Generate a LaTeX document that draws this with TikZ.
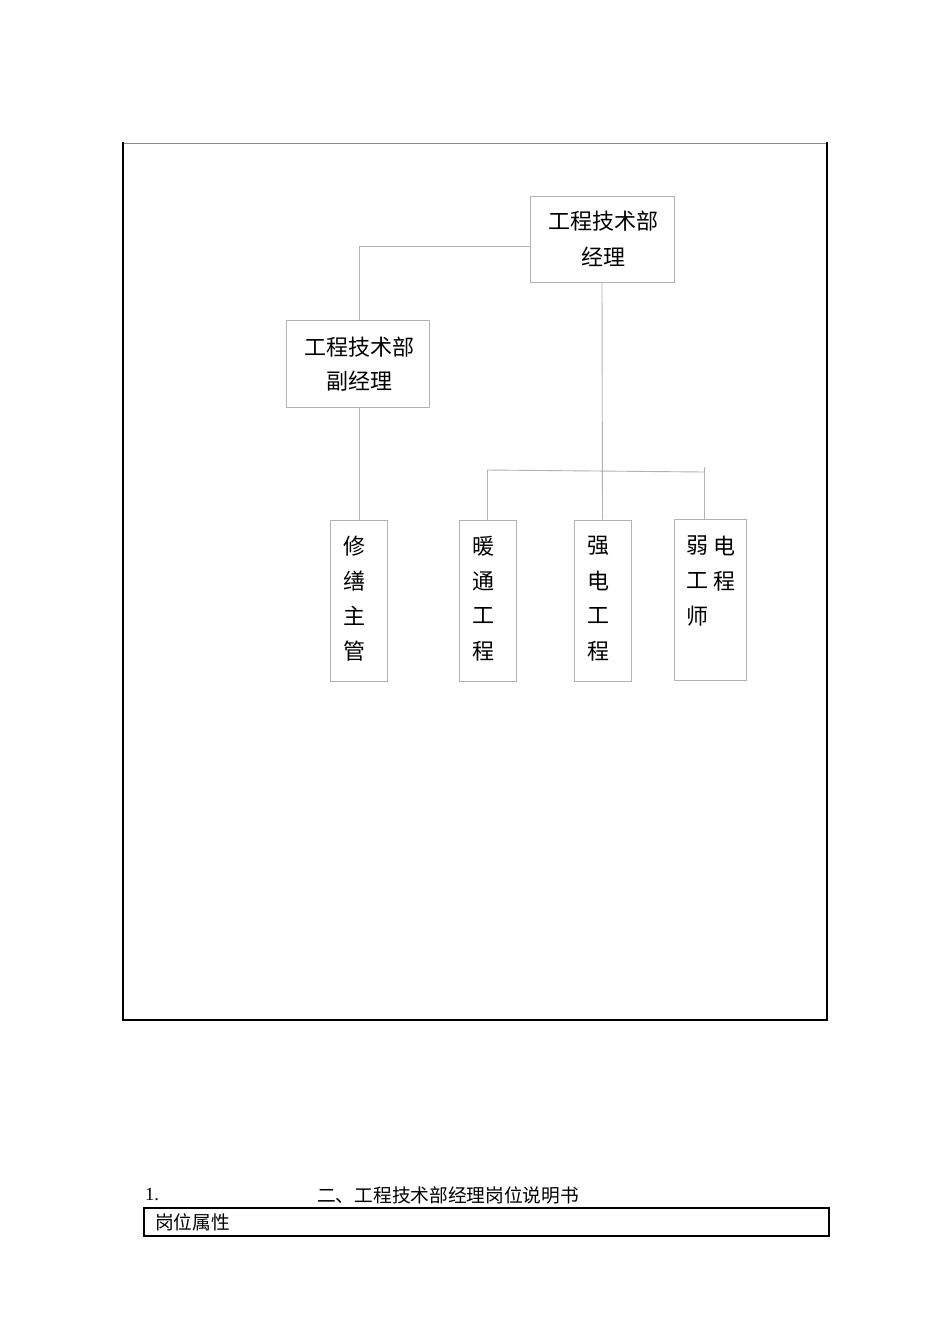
\documentclass[tikz,border=0pt]{standalone}
\usepackage{fontspec}
\setmainfont{Liberation Serif}
\newfontfamily\cjk{Noto Sans CJK SC}
\begin{document}
\begin{tikzpicture}[x=1pt,y=-1pt,
  orgbox/.style={draw=black!30,line width=0.9pt,inner sep=0pt},
  conn/.style={draw=black!30,line width=0.9pt},
  btxt/.style={font=\cjk\fontsize{22}{35}\selectfont,inner sep=0pt,anchor=center}]
\useasboundingbox[fill=white] (0,0) rectangle (950,1344);
% outer frame
\draw[black!45,line width=1pt] (123,143) -- (827,143);
\draw[black,line width=2.8pt] (123,142) -- (123,1020) -- (827,1020) -- (827,142);
% boxes
\node[orgbox,minimum width=144pt,minimum height=86pt] (mgr) at (602,239) {};
\node[btxt] at (603,221) {工程技术部};
\node[btxt] at (603,257) {经理};
\node[orgbox,minimum width=143pt,minimum height=87pt] (dep) at (357.5,363.5) {};
\node[btxt] at (359,347) {工程技术部};
\node[btxt] at (359,381) {副经理};
\node[orgbox,minimum width=57pt,minimum height=161pt] (xs) at (358.5,600.5) {};
\node[orgbox,minimum width=57pt,minimum height=161pt] (nt) at (487.5,600.5) {};
\node[orgbox,minimum width=57pt,minimum height=161pt] (qd) at (602.5,600.5) {};
\node[orgbox,minimum width=72pt,minimum height=161pt] (rd) at (710,599.5) {};
\foreach \c [count=\i] in {修,缮,主,管} \node[btxt] at (354,511+35*\i) {\c};
\foreach \c [count=\i] in {暖,通,工,程} \node[btxt] at (483,511+35*\i) {\c};
\foreach \c [count=\i] in {强,电,工,程} \node[btxt] at (598,511+35*\i) {\c};
\node[btxt] at (697,546) {弱};
\node[btxt] at (724,546) {电};
\node[btxt] at (697,581) {工};
\node[btxt] at (724,581) {程};
\node[btxt] at (697,616) {师};
% connectors
\coordinate (a1) at (359,246);
\coordinate (b1) at (487,470);
\coordinate (b2) at (704,472);
\coordinate (b3) at (704,467);
\draw[conn] (mgr.west |- a1) -- (a1) -- (a1 |- dep.north);
\draw[conn] (mgr.south) -- (qd.north);
\draw[conn] (b1) -- (b2);
\draw[conn] (b1) -- (b1 |- nt.north);
\draw[conn] (b3) -- (b3 |- rd.north);
\draw[conn] (dep.south -| 359,0) -- (359,520);
% bottom
\node[font=\fontsize{18.5}{20}\selectfont,anchor=west,inner sep=0pt] (num) at (145,1195) {1.};
\node[font=\cjk\fontsize{18.7}{20}\selectfont,anchor=west,inner sep=0pt] (ttl) at (317,1195) {二、工程技术部经理岗位说明书};
\node[draw=black,line width=2.4pt,minimum width=685pt,minimum height=28pt,inner sep=0pt] (tb) at (486.5,1222) {};
\node[font=\cjk\fontsize{18.7}{20}\selectfont,anchor=west,inner sep=0pt] (attr) at (155,1222) {岗位属性};
\end{tikzpicture}
\end{document}
